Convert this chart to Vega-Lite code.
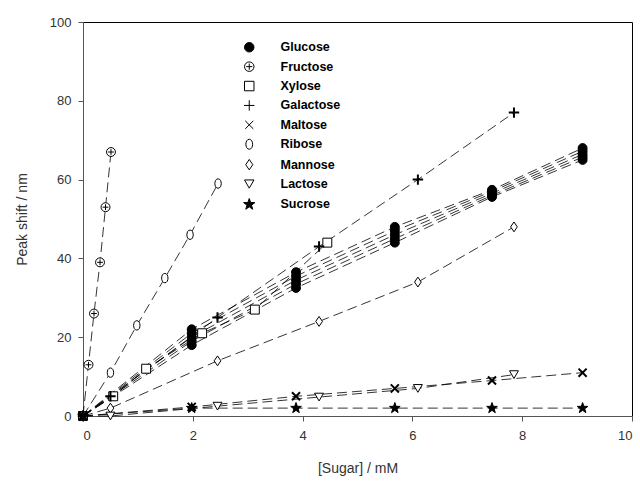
{
  "$schema": "https://vega.github.io/schema/vega-lite/v6.json",
  "autosize": "none",
  "width": 549,
  "height": 394,
  "padding": {"left": 83, "top": 22, "right": 8, "bottom": 66},
  "background": "white",
  "config": {
    "view": {"stroke": "black", "strokeWidth": 1},
    "font": "Liberation Sans",
    "axis": {"grid": false, "domainColor": "#555", "tickColor": "#555", "labelColor": "#333", "titleColor": "#333", "labelFontSize": 13, "titleFontSize": 14, "titleFontWeight": "normal", "tickSize": 5}
  },
  "data": {"values": [
    {"s": "Glucose", "r": "G1", "x": 0, "y": 0},
    {"s": "Glucose", "r": "G1", "x": 1.98, "y": 22},
    {"s": "Glucose", "r": "G1", "x": 3.88, "y": 36.5},
    {"s": "Glucose", "r": "G1", "x": 5.68, "y": 48},
    {"s": "Glucose", "r": "G1", "x": 7.45, "y": 57.4},
    {"s": "Glucose", "r": "G1", "x": 9.1, "y": 68},
    {"s": "Glucose", "r": "G2", "x": 0, "y": 0},
    {"s": "Glucose", "r": "G2", "x": 1.98, "y": 21},
    {"s": "Glucose", "r": "G2", "x": 3.88, "y": 35.5},
    {"s": "Glucose", "r": "G2", "x": 5.68, "y": 47},
    {"s": "Glucose", "r": "G2", "x": 7.45, "y": 57},
    {"s": "Glucose", "r": "G2", "x": 9.1, "y": 67.2},
    {"s": "Glucose", "r": "G3", "x": 0, "y": 0},
    {"s": "Glucose", "r": "G3", "x": 1.98, "y": 20},
    {"s": "Glucose", "r": "G3", "x": 3.88, "y": 34.5},
    {"s": "Glucose", "r": "G3", "x": 5.68, "y": 46},
    {"s": "Glucose", "r": "G3", "x": 7.45, "y": 56.5},
    {"s": "Glucose", "r": "G3", "x": 9.1, "y": 66.4},
    {"s": "Glucose", "r": "G4", "x": 0, "y": 0},
    {"s": "Glucose", "r": "G4", "x": 1.98, "y": 19},
    {"s": "Glucose", "r": "G4", "x": 3.88, "y": 33.5},
    {"s": "Glucose", "r": "G4", "x": 5.68, "y": 45},
    {"s": "Glucose", "r": "G4", "x": 7.45, "y": 56},
    {"s": "Glucose", "r": "G4", "x": 9.1, "y": 65.7},
    {"s": "Glucose", "r": "G5", "x": 0, "y": 0},
    {"s": "Glucose", "r": "G5", "x": 1.98, "y": 18},
    {"s": "Glucose", "r": "G5", "x": 3.88, "y": 32.5},
    {"s": "Glucose", "r": "G5", "x": 5.68, "y": 44},
    {"s": "Glucose", "r": "G5", "x": 7.45, "y": 55.6},
    {"s": "Glucose", "r": "G5", "x": 9.1, "y": 65},
    {"s": "Fructose", "r": "F", "x": 0, "y": 0},
    {"s": "Fructose", "r": "F", "x": 0.1, "y": 13},
    {"s": "Fructose", "r": "F", "x": 0.2, "y": 26},
    {"s": "Fructose", "r": "F", "x": 0.31, "y": 39},
    {"s": "Fructose", "r": "F", "x": 0.41, "y": 53},
    {"s": "Fructose", "r": "F", "x": 0.51, "y": 67},
    {"s": "Xylose", "r": "X", "x": 0, "y": 0},
    {"s": "Xylose", "r": "X", "x": 0.55, "y": 5},
    {"s": "Xylose", "r": "X", "x": 1.15, "y": 12},
    {"s": "Xylose", "r": "X", "x": 2.17, "y": 21},
    {"s": "Xylose", "r": "X", "x": 3.13, "y": 27},
    {"s": "Xylose", "r": "X", "x": 4.45, "y": 44},
    {"s": "Galactose", "r": "Ga", "x": 0, "y": 0},
    {"s": "Galactose", "r": "Ga", "x": 0.5, "y": 5},
    {"s": "Galactose", "r": "Ga", "x": 2.45, "y": 25},
    {"s": "Galactose", "r": "Ga", "x": 4.3, "y": 43},
    {"s": "Galactose", "r": "Ga", "x": 6.1, "y": 60},
    {"s": "Galactose", "r": "Ga", "x": 7.85, "y": 77},
    {"s": "Maltose", "r": "M", "x": 0, "y": 0},
    {"s": "Maltose", "r": "M", "x": 1.98, "y": 2.3},
    {"s": "Maltose", "r": "M", "x": 3.88, "y": 5},
    {"s": "Maltose", "r": "M", "x": 5.68, "y": 7},
    {"s": "Maltose", "r": "M", "x": 7.45, "y": 9},
    {"s": "Maltose", "r": "M", "x": 9.1, "y": 11},
    {"s": "Ribose", "r": "R", "x": 0, "y": 0},
    {"s": "Ribose", "r": "R", "x": 0.5, "y": 11},
    {"s": "Ribose", "r": "R", "x": 0.98, "y": 23},
    {"s": "Ribose", "r": "R", "x": 1.49, "y": 35},
    {"s": "Ribose", "r": "R", "x": 1.95, "y": 46},
    {"s": "Ribose", "r": "R", "x": 2.46, "y": 59},
    {"s": "Mannose", "r": "Ma", "x": 0, "y": 0},
    {"s": "Mannose", "r": "Ma", "x": 0.5, "y": 2},
    {"s": "Mannose", "r": "Ma", "x": 2.45, "y": 14},
    {"s": "Mannose", "r": "Ma", "x": 4.3, "y": 24},
    {"s": "Mannose", "r": "Ma", "x": 6.1, "y": 34},
    {"s": "Mannose", "r": "Ma", "x": 7.85, "y": 48},
    {"s": "Lactose", "r": "L", "x": 0, "y": 0},
    {"s": "Lactose", "r": "L", "x": 0.5, "y": 0},
    {"s": "Lactose", "r": "L", "x": 2.45, "y": 2.5},
    {"s": "Lactose", "r": "L", "x": 4.3, "y": 4.8},
    {"s": "Lactose", "r": "L", "x": 6.1, "y": 7},
    {"s": "Lactose", "r": "L", "x": 7.85, "y": 10.5},
    {"s": "Sucrose", "r": "S", "x": 0, "y": 0},
    {"s": "Sucrose", "r": "S", "x": 1.98, "y": 2},
    {"s": "Sucrose", "r": "S", "x": 3.88, "y": 2},
    {"s": "Sucrose", "r": "S", "x": 5.68, "y": 2},
    {"s": "Sucrose", "r": "S", "x": 7.45, "y": 2},
    {"s": "Sucrose", "r": "S", "x": 9.1, "y": 2}
  ]},
  "layer": [
    {
      "mark": {"type": "line", "color": "black", "strokeWidth": 0.8, "strokeDash": [10, 5]},
      "encoding": {
        "x": {"field": "x", "type": "quantitative", "scale": {"domain": [0, 10], "nice": false}, "axis": {"values": [0, 2, 4, 6, 8, 10], "title": "[Sugar] / mM", "titlePadding": 19, "labelPadding": 8}},
        "y": {"field": "y", "type": "quantitative", "scale": {"domain": [0, 100], "nice": false}, "axis": {"values": [0, 20, 40, 60, 80, 100], "title": "Peak shift / nm", "titlePadding": 20, "labelPadding": 7}},
        "detail": {"field": "r"}
      }
    },
    {
      "transform": [{"filter": "datum.s != 'Galactose' && datum.s != 'Maltose'"}],
      "mark": {"type": "point", "filled": true, "size": 80, "opacity": 1, "strokeWidth": 1},
      "encoding": {
        "x": {"field": "x", "type": "quantitative"},
        "y": {"field": "y", "type": "quantitative"},
        "shape": {
          "field": "s", "type": "nominal",
          "scale": {
            "domain": ["Glucose", "Fructose", "Xylose", "Galactose", "Maltose", "Ribose", "Mannose", "Lactose", "Sucrose"],
            "range": [
              "circle",
              "M-1,0A1,1 0 1,0 1,0A1,1 0 1,0 -1,0ZM-0.65,0H0.65M0,-0.65V0.65",
              "square",
              "M-1.1,0H1.1M0,-1.1V1.1",
              "M-0.85,-0.85L0.85,0.85M-0.85,0.85L0.85,-0.85",
              "M0,-1.05C0.95,-1.05 0.95,1.05 0,1.05C-0.95,1.05 -0.95,-1.05 0,-1.05Z",
              "M0,-1.1L0.75,0L0,1.1L-0.75,0Z",
              "triangle-down",
              "M0,-1.25L0.294,-0.405L1.189,-0.386L0.475,0.155L0.735,1.011L0,0.5L-0.735,1.011L-0.475,0.155L-1.189,-0.386L-0.294,-0.405Z"
            ]
          },
          "legend": {
            "title": null, "orient": "none", "legendX": 160, "legendY": 19,
            "labelFont": "Liberation Sans", "labelFontWeight": "bold", "labelFontSize": 12.5, "labelColor": "black",
            "symbolSize": 90, "symbolStrokeWidth": 1, "labelOffset": 25, "rowPadding": 5.4
          }
        },
        "fill": {
          "field": "s", "type": "nominal",
          "scale": {
            "domain": ["Glucose", "Fructose", "Xylose", "Galactose", "Maltose", "Ribose", "Mannose", "Lactose", "Sucrose"],
            "range": ["black", "white", "white", "white", "white", "white", "white", "white", "black"]
          }
        },
        "stroke": {
          "field": "s", "type": "nominal",
          "scale": {
            "domain": ["Glucose", "Fructose", "Xylose", "Galactose", "Maltose", "Ribose", "Mannose", "Lactose", "Sucrose"],
            "range": ["black", "black", "black", "black", "black", "black", "black", "black", "black"]
          }
        }
      }
    },
    {
      "transform": [{"filter": "datum.s == 'Galactose' || datum.s == 'Maltose'"}],
      "mark": {"type": "point", "filled": true, "size": 90, "opacity": 1, "strokeWidth": 2},
      "encoding": {
        "x": {"field": "x", "type": "quantitative"},
        "y": {"field": "y", "type": "quantitative"},
        "shape": {"field": "s", "type": "nominal"},
        "fill": {"field": "s", "type": "nominal"},
        "stroke": {"field": "s", "type": "nominal"}
      }
    }
  ]
}
